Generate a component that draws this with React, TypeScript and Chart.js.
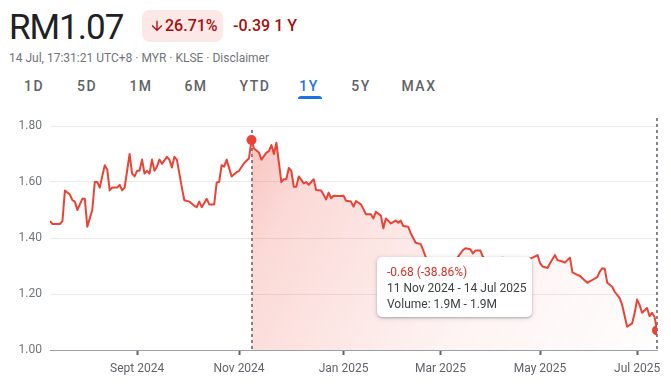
import React, { useEffect, useRef } from "react";
import { Chart, registerables } from "chart.js";

Chart.register(...registerables);

// trading-day index (0 = 15 Jul 2024 ... 244 = 14 Jul 2025)
const dayIndex = [
  0, 1, 4, 5, 6, 8, 9, 10, 11, 13, 14, 15, 17, 18, 19, 20, 22, 23, 24, 25, 27, 28, 29, 30, 32, 33, 34, 35, 36, 37, 38, 39,
  40, 41, 42, 43, 44, 45, 47, 48, 49, 50, 51, 52, 53, 54, 56, 58, 59, 60, 61, 63, 64, 66, 67, 68, 69, 70, 71, 73, 75, 76,
  78, 80, 81, 82, 84, 85, 87, 88, 89, 90, 91, 93, 94, 95, 96, 97, 98, 99, 100, 102, 103, 104, 105, 106, 107, 109, 111, 112,
  113, 114, 116, 118, 119, 121, 122, 123, 125, 126, 127, 129, 130, 131, 133, 134, 135, 137, 139, 140, 141, 142, 144, 145,
  147, 149, 150, 151, 153, 155, 157, 159, 160, 163, 166, 167, 169, 170, 171, 173, 174, 176, 179, 182, 185, 188, 190, 192,
  193, 194, 196, 197, 198, 200, 201, 203, 204, 206, 207, 209, 210, 212, 213, 214, 216, 217, 218, 220, 221, 222, 223, 224,
  226, 227, 229, 230, 232, 234, 235, 236, 237, 238, 240, 241, 242, 243, 244,
];

const price = [
  1.46, 1.45, 1.45, 1.46, 1.57, 1.555, 1.535, 1.53, 1.5, 1.54, 1.54, 1.44, 1.5, 1.6, 1.6, 1.58, 1.66, 1.645, 1.57, 1.58,
  1.58, 1.59, 1.57, 1.58, 1.7, 1.63, 1.62, 1.64, 1.64, 1.68, 1.63, 1.64, 1.63, 1.68, 1.64, 1.655, 1.68, 1.665, 1.69, 1.68,
  1.652, 1.69, 1.68, 1.63, 1.58, 1.535, 1.53, 1.515, 1.51, 1.53, 1.51, 1.54, 1.52, 1.52, 1.598, 1.6, 1.66, 1.655, 1.68,
  1.62, 1.635, 1.64, 1.667, 1.685, 1.75, 1.72, 1.705, 1.68, 1.705, 1.71, 1.732, 1.7, 1.74, 1.6, 1.61, 1.61, 1.65, 1.64,
  1.583, 1.583, 1.62, 1.595, 1.6, 1.59, 1.6, 1.61, 1.571, 1.57, 1.538, 1.562, 1.542, 1.551, 1.55, 1.551, 1.533, 1.53,
  1.512, 1.532, 1.52, 1.503, 1.485, 1.485, 1.47, 1.494, 1.48, 1.435, 1.47, 1.452, 1.462, 1.455, 1.462, 1.443, 1.44, 1.417,
  1.383, 1.378, 1.357, 1.333, 1.31, 1.29, 1.3, 1.32, 1.327, 1.32, 1.357, 1.363, 1.36, 1.345, 1.355, 1.355, 1.333, 1.32,
  1.31, 1.33, 1.32, 1.3, 1.32, 1.327, 1.327, 1.33, 1.339, 1.31, 1.298, 1.293, 1.31, 1.339, 1.321, 1.316, 1.312, 1.33,
  1.277, 1.268, 1.265, 1.256, 1.24, 1.245, 1.25, 1.26, 1.28, 1.292, 1.29, 1.24, 1.226, 1.208, 1.185, 1.161, 1.083, 1.095,
  1.131, 1.18, 1.161, 1.133, 1.15, 1.121, 1.133, 1.119, 1.07,
];

const tickIndex = [35, 76, 118, 157, 197, 236];
const tickLabels = ["Sept 2024", "Nov 2024", "Jan 2025", "Mar 2025", "May 2025", "Jul 2025"];
const yMin = 1.0;
const yMax = 1.8;
const yStep = 0.2;
const rangeStart = 81;
const rangeEnd = 244;

const tabs = ["1D", "5D", "1M", "6M", "YTD", "1Y", "5Y", "MAX"];
const tabCenters = [34, 87, 141, 196, 255, 309, 361, 419];
const selectedTab = "1Y";

const RED = "#ea4335";

export default function App() {
  const ref = useRef<HTMLCanvasElement | null>(null);

  useEffect(() => {
    if (!ref.current) return;
    const all = dayIndex.map((x, i) => ({ x, y: price[i] }));
    const sel = all.filter((p) => p.x >= rangeStart && p.x <= rangeEnd);

    const dashPlugin = {
      id: "dashes",
      beforeDatasetsDraw(chart: any) {
        const { ctx, chartArea, scales } = chart;
        ctx.save();
        ctx.strokeStyle = "#80868b";
        ctx.lineWidth = 2;
        ctx.setLineDash([3, 3]);
        [rangeStart, rangeEnd].forEach((v) => {
          const x = Math.round(scales.x.getPixelForValue(v));
          const top = v === rangeEnd ? chartArea.top - 8 : chartArea.top + 4;
          ctx.beginPath();
          ctx.moveTo(x, top);
          ctx.lineTo(x, chartArea.bottom);
          ctx.stroke();
        });
        ctx.restore();
      },
    };

    const chart = new Chart(ref.current, {
      type: "line",
      data: {
        datasets: [
          {
            data: all,
            borderColor: RED,
            borderWidth: 2,
            tension: 0,
            fill: false,
            borderJoinStyle: "round",
            pointRadius: (c: any) => {
              const x = dayIndex[c.dataIndex];
              return x === rangeStart || x === rangeEnd ? 5 : 0;
            },
            pointBackgroundColor: RED,
            pointBorderWidth: 0,
          },
          {
            data: sel,
            borderWidth: 0,
            pointRadius: 0,
            tension: 0,
            fill: "start",
            backgroundColor: (c: any) => {
              const chart = c.chart;
              const area = chart.chartArea;
              if (!area) return "rgba(234,67,53,0.2)";
              const x0 = chart.scales.x.getPixelForValue(rangeStart);
              const g = chart.ctx.createLinearGradient(x0, area.top, area.right, area.bottom);
              g.addColorStop(0, "rgba(234,67,53,0.32)");
              g.addColorStop(0.15, "rgba(234,67,53,0.2)");
              g.addColorStop(0.6, "rgba(234,67,53,0.06)");
              g.addColorStop(1, "rgba(234,67,53,0.01)");
              return g;
            },
          },
        ],
      },
      options: {
        animation: false,
        responsive: false,
        events: [],
        layout: { padding: { top: 26, right: 14, left: 0, bottom: 0 } },
        plugins: { legend: { display: false }, tooltip: { enabled: false } },
        scales: {
          x: {
            type: "linear",
            min: 0,
            max: rangeEnd,
            afterBuildTicks: (s: any) => {
              s.ticks = tickIndex.map((v) => ({ value: v }));
            },
            afterFit: (s: any) => {
              s.height = 42;
            },
            ticks: {
              autoSkip: false,
              maxRotation: 0,
              padding: 7,
              color: "#5f6368",
              font: { family: "Roboto", size: 12 },
              callback: (v: any) => {
                const i = tickIndex.indexOf(Number(v));
                return i >= 0 ? tickLabels[i] : null;
              },
            },
            grid: {
              drawOnChartArea: false,
              drawTicks: true,
              tickLength: 5,
              tickWidth: 2,
              tickColor: "#5f6368",
            },
            border: { display: true, color: "#9aa0a6", width: 1 },
          },
          y: {
            min: yMin,
            max: yMax,
            afterFit: (s: any) => {
              s.width = 50;
            },
            ticks: {
              stepSize: yStep,
              padding: 8,
              color: "#70757a",
              font: { family: "Roboto", size: 12 },
              callback: (v: any) => Number(v).toFixed(2),
            },
            grid: { color: "#ebebeb", lineWidth: 1, drawTicks: false },
            border: { display: false },
          },
        },
      },
      plugins: [dashPlugin],
    } as any);
    return () => chart.destroy();
  }, []);

  const font = "Roboto, Arial, sans-serif";

  return (
    <div
      style={{
        position: "fixed",
        left: 0,
        top: 0,
        width: 671,
        height: 392,
        background: "#fff",
        fontFamily: font,
        overflow: "hidden",
      }}
    >
      <div
        style={{
          position: "absolute",
          left: 9,
          top: 10,
          fontSize: 35,
          lineHeight: "35px",
          color: "#202124",
          letterSpacing: -1,
        }}
      >
        RM1.07
      </div>
      <div
        style={{
          position: "absolute",
          left: 142,
          top: 10,
          width: 81,
          height: 32,
          borderRadius: 8,
          background: "#fce8e6",
        }}
      />
      <svg
        style={{ position: "absolute", left: 149, top: 18 }}
        width={16}
        height={16}
        viewBox="0 0 24 24"
      >
        <path fill="#a50e0e" d="M20 12l-1.41-1.41L13 16.17V4h-2v12.17l-5.58-5.59L4 12l8 8 8-8z" />
      </svg>
      <div
        style={{
          position: "absolute",
          left: 165,
          top: 16,
          fontSize: 16,
          lineHeight: "20px",
          fontWeight: 500,
          color: "#a50e0e",
        }}
      >
        26.71%
      </div>
      <div
        style={{
          position: "absolute",
          left: 233,
          top: 16,
          fontSize: 16,
          lineHeight: "20px",
          fontWeight: 500,
          color: "#a50e0e",
        }}
      >
        -0.39 1 Y
      </div>
      <div
        style={{
          position: "absolute",
          left: 9,
          top: 50,
          fontSize: 12,
          lineHeight: "16px",
          color: "#70757a",
          whiteSpace: "nowrap",
        }}
      >
        14 Jul, 17:31:21 UTC+8 · MYR · KLSE · Disclaimer
      </div>
      {tabs.map((t, i) => (
        <div
          key={t}
          style={{
            position: "absolute",
            left: tabCenters[i] - 30,
            width: 60,
            top: 77,
            textAlign: "center",
            fontSize: 14,
            lineHeight: "18px",
            fontWeight: 500,
            letterSpacing: 1.5,
            color: t === selectedTab ? "#1a73e8" : "#5f6368",
          }}
        >
          {t}
        </div>
      ))}
      <div
        style={{
          position: "absolute",
          left: 298,
          top: 96,
          width: 24,
          height: 3,
          borderRadius: "3px 3px 0 0",
          background: "#1a73e8",
        }}
      />
      <canvas
        ref={ref}
        width={671}
        height={292}
        style={{ position: "absolute", left: 0, top: 100, width: 671, height: 292 }}
      />
      <div
        style={{
          position: "absolute",
          left: 377,
          top: 257,
          width: 155,
          height: 60,
          boxSizing: "border-box",
          paddingTop: 7,
          paddingLeft: 10,
          background: "#fff",
          borderRadius: 5,
          boxShadow: "0 1px 2px rgba(60,64,67,0.3), 0 1px 4px 1px rgba(60,64,67,0.15)",
          fontSize: 12,
          lineHeight: "16px",
          color: "#3c4043",
          whiteSpace: "nowrap",
        }}
      >
        <div style={{ color: "#d93025" }}>-0.68 (-38.86%)</div>
        <div>11 Nov 2024 - 14 Jul 2025</div>
        <div>Volume: 1.9M - 1.9M</div>
      </div>
    </div>
  );
}
